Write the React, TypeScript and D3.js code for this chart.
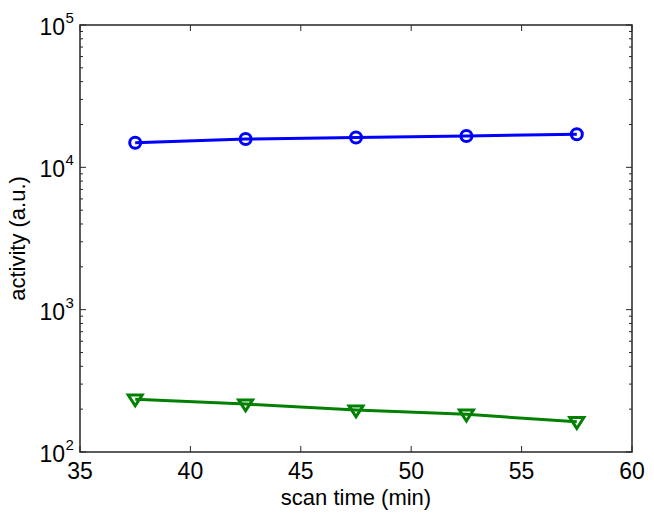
import React from "react";
import * as d3 from "d3";

const times = [37.5, 42.5, 47.5, 52.5, 57.5];
const blueValues = [14900, 15800, 16200, 16600, 17060];
const greenValues = [235, 217, 197, 184, 163];
const xTicks = [35, 40, 45, 50, 55, 60];
const yMajorExps = [2, 3, 4, 5];

const W = 654, H = 519;
const M = { left: 80, right: 632, top: 25, bottom: 452 };

export default function App() {
  const x = d3.scaleLinear().domain([35, 60]).range([M.left, M.right]);
  const y = d3.scaleLog().domain([100, 100000]).range([M.bottom, M.top]);
  const line = d3.line<[number, number]>().x(d => x(d[0])).y(d => y(d[1]));
  const blue = times.map((t, i) => [t, blueValues[i]] as [number, number]);
  const green = times.map((t, i) => [t, greenValues[i]] as [number, number]);

  const minor: number[] = [];
  for (let e = 2; e < 5; e++) for (let k = 2; k <= 9; k++) minor.push(k * Math.pow(10, e));

  const font = "'Liberation Sans', Arial, sans-serif";
  const axisColor = "#262626";
  const tri = (cx: number, cy: number) => {
    const s = 7;
    return `M${cx - s},${cy - s * 0.6}L${cx + s},${cy - s * 0.6}L${cx},${cy + s * 0.95}Z`;
  };

  return (
    <svg width={W} height={H} style={{ position: "absolute", left: 0, top: 0, background: "#fff" }} fontFamily={font}>
      <rect x={0} y={0} width={W} height={H} fill="#fff" />
      {minor.map((v, i) => (
        <g key={"m" + i} stroke={axisColor} strokeWidth={1}>
          <line x1={M.left} x2={M.left + 3} y1={y(v)} y2={y(v)} />
          <line x1={M.right} x2={M.right - 3} y1={y(v)} y2={y(v)} />
        </g>
      ))}
      {yMajorExps.map(e => (
        <g key={"y" + e}>
          <line x1={M.left} x2={M.left + 6} y1={y(Math.pow(10, e))} y2={y(Math.pow(10, e))} stroke={axisColor} strokeWidth={1} />
          <line x1={M.right} x2={M.right - 6} y1={y(Math.pow(10, e))} y2={y(Math.pow(10, e))} stroke={axisColor} strokeWidth={1} />
          <text x={65} y={y(Math.pow(10, e)) + 10} fontSize={23} textAnchor="end" fill="#000">10</text>
          <text x={65.5} y={y(Math.pow(10, e)) - 2} fontSize={15} textAnchor="start" fill="#000">{e}</text>
        </g>
      ))}
      {xTicks.map(t => (
        <g key={"x" + t}>
          <line x1={x(t)} x2={x(t)} y1={M.bottom} y2={M.bottom - 6} stroke={axisColor} strokeWidth={1} />
          <line x1={x(t)} x2={x(t)} y1={M.top} y2={M.top + 6} stroke={axisColor} strokeWidth={1} />
          <text x={x(t)} y={479} fontSize={23} textAnchor="middle" fill="#000">{t}</text>
        </g>
      ))}
      <rect x={M.left} y={M.top} width={M.right - M.left} height={M.bottom - M.top} fill="none" stroke={axisColor} strokeWidth={1.5} />
      <path d={line(blue) || ""} fill="none" stroke="#0000ff" strokeWidth={3} />
      {blue.map((d, i) => (
        <circle key={"b" + i} cx={x(d[0])} cy={y(d[1])} r={5.5} fill="none" stroke="#0000ff" strokeWidth={3} />
      ))}
      <path d={line(green) || ""} fill="none" stroke="#008000" strokeWidth={3} />
      {green.map((d, i) => (
        <path key={"g" + i} d={tri(x(d[0]), y(d[1]))} fill="none" stroke="#008000" strokeWidth={3} strokeLinejoin="miter" />
      ))}
      <text x={(M.left + M.right) / 2} y={505} fontSize={22} textAnchor="middle" fill="#000">scan time (min)</text>
      <text transform={`translate(25,${(M.top + M.bottom) / 2}) rotate(-90)`} fontSize={22} textAnchor="middle" fill="#000">activity (a.u.)</text>
    </svg>
  );
}
